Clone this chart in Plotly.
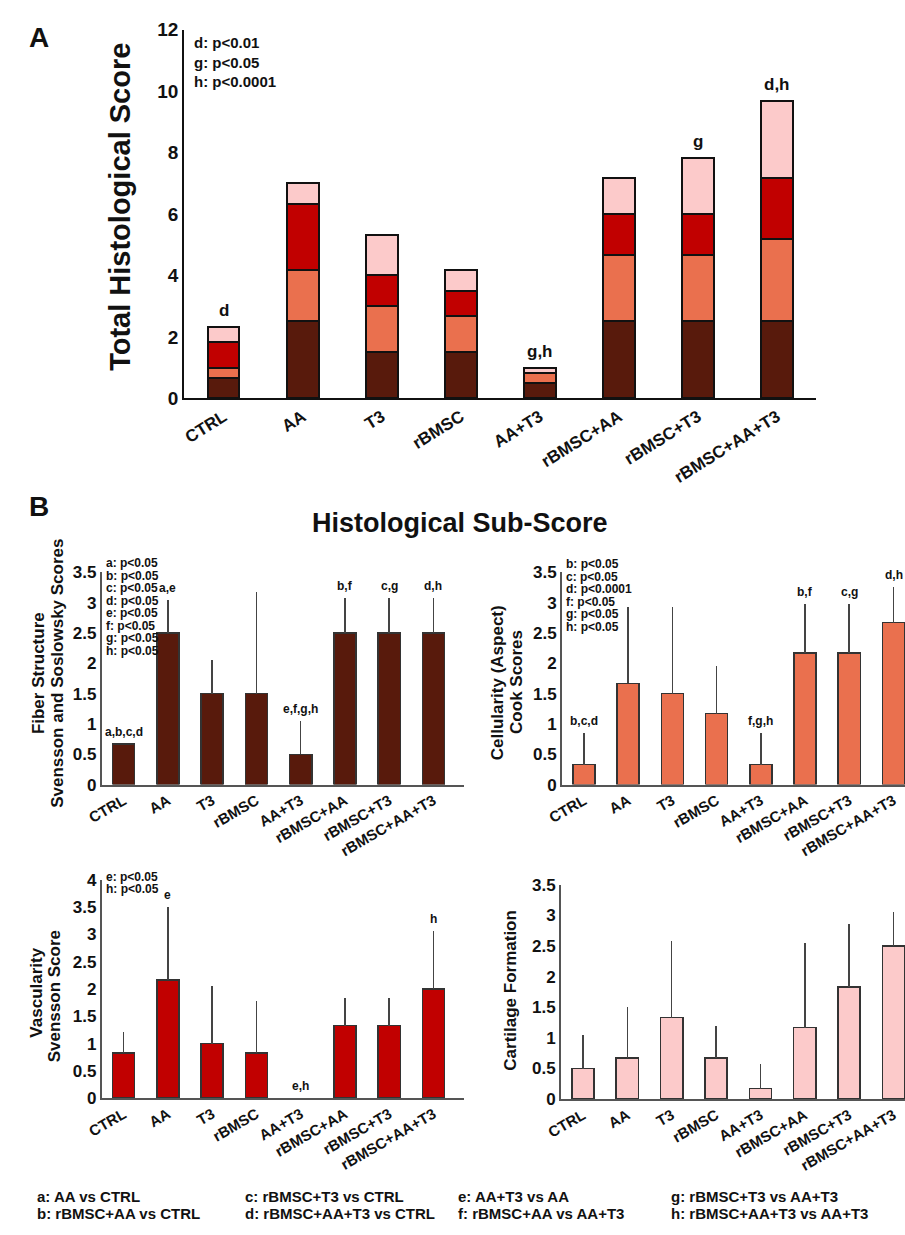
import plotly.graph_objects as go

W, H = 905, 1235

groups = ["CTRL", "AA", "T3", "rBMSC", "AA+T3", "rBMSC+AA", "rBMSC+T3", "rBMSC+AA+T3"]

# Mean sub-scores per group
fiber_mean = [0.67, 2.5, 1.5, 1.5, 0.5, 2.5, 2.5, 2.5]
cell_mean = [0.33, 1.67, 1.5, 1.17, 0.33, 2.17, 2.17, 2.67]
vasc_mean = [0.83, 2.17, 1.0, 0.83, 0.0, 1.33, 1.33, 2.0]
cart_mean = [0.5, 0.67, 1.33, 0.67, 0.17, 1.17, 1.83, 2.5]

# Standard deviations (upper bars only)
fiber_sd = [0.0, 0.55, 0.55, 1.67, 0.55, 0.57, 0.57, 0.57]
cell_sd = [0.52, 1.26, 1.43, 0.78, 0.52, 0.81, 0.81, 0.58]
vasc_sd = [0.39, 1.33, 1.06, 0.95, 0.0, 0.5, 0.5, 1.07]
cart_sd = [0.55, 0.83, 1.25, 0.53, 0.41, 1.38, 1.03, 0.55]

# Significance letters
total_sig = ["d", "", "", "", "g,h", "", "g", "d,h"]
fiber_sig = ["a,b,c,d", "a,e", "", "", "e,f,g,h", "b,f", "c,g", "d,h"]
cell_sig = ["b,c,d", "", "", "", "f,g,h", "b,f", "c,g", "d,h"]
vasc_sig = ["", "e", "", "", "e,h", "", "", "h"]

total_pvals = ["d: p<0.01", "g: p<0.05", "h: p<0.0001"]
fiber_pvals = ["a: p<0.05", "b: p<0.05", "c: p<0.05", "d: p<0.05",
               "e: p<0.05", "f: p<0.05", "g: p<0.05", "h: p<0.05"]
cell_pvals = ["b: p<0.05", "c: p<0.05", "d: p<0.0001", "f: p<0.05", "g: p<0.05", "h: p<0.05"]
vasc_pvals = ["e: p<0.05", "h: p<0.05"]

comparisons = [
    ["a: AA vs CTRL", "b: rBMSC+AA vs CTRL"],
    ["c: rBMSC+T3 vs CTRL", "d: rBMSC+AA+T3 vs CTRL"],
    ["e: AA+T3 vs AA", "f: rBMSC+AA vs AA+T3"],
    ["g: rBMSC+T3 vs AA+T3", "h: rBMSC+AA+T3 vs AA+T3"],
]

C_FIBER = "#581a0c"
C_CELL = "#ea704e"
C_VASC = "#c10000"
C_CART = "#fccaca"

FONT = "Liberation Sans, Arial, sans-serif"


def px(x):
    return x / W


def py(y):
    return 1 - y / H


fig = go.Figure()

# Panel A: stacked total score
for vals, col in [(fiber_mean, C_FIBER), (cell_mean, C_CELL), (vasc_mean, C_VASC), (cart_mean, C_CART)]:
    fig.add_trace(go.Bar(
        x=groups, y=vals, width=0.4,
        marker=dict(color=col, line=dict(color="#111", width=[2 if v > 0 else 0 for v in vals])),
        xaxis="x", yaxis="y", showlegend=False))

# Panel B sub-scores
sub = [
    (fiber_mean, fiber_sd, C_FIBER, "x2", "y2"),
    (cell_mean, cell_sd, C_CELL, "x3", "y3"),
    (vasc_mean, vasc_sd, C_VASC, "x4", "y4"),
    (cart_mean, cart_sd, C_CART, "x5", "y5"),
]
for m, sd, col, xa, ya in sub:
    fig.add_trace(go.Bar(
        x=groups, y=m, width=0.5,
        marker=dict(color=col, line=dict(color="#333", width=[1.5 if v > 0 else 0 for v in m])),
        error_y=dict(type="data", array=sd, arrayminus=[0] * len(sd), symmetric=False,
                     width=0, thickness=1.6, color="#444"),
        xaxis=xa, yaxis=ya, showlegend=False))

ax_common = dict(showgrid=False, zeroline=False, ticks="", showline=True, fixedrange=True)
xa_font = dict(family=FONT, size=17, color="#111", weight="bold")
xb_font = dict(family=FONT, size=15, color="#111", weight="bold")
yb_font = dict(family=FONT, size=17, color="#111", weight="bold")

layout = dict(
    width=W, height=H, margin=dict(l=0, r=0, t=0, b=0),
    paper_bgcolor="white", plot_bgcolor="white", barmode="stack",
    font=dict(family=FONT, color="#111"),
    xaxis=dict(domain=[px(172), px(815)], range=[-0.5, 7.5], anchor="y", tickangle=-32,
               tickfont=xa_font, linecolor="#111", linewidth=2, **ax_common),
    yaxis=dict(domain=[py(395), py(20)], range=[0, 12], anchor="x", tickvals=[0, 2, 4, 6, 8, 10, 12],
               tickfont=dict(family=FONT, size=19, color="#111", weight="bold"),
               linecolor="#111", linewidth=2, **ax_common),
    xaxis2=dict(domain=[px(88), px(457)], range=[-0.5, 7.7], anchor="y2", tickangle=-30,
                tickfont=xb_font, linecolor="#555", linewidth=1.5, **ax_common),
    yaxis2=dict(domain=[py(788), py(572)], range=[0, 3.5], anchor="x2", dtick=0.5,
                tickfont=yb_font, linecolor="#555", linewidth=1.5, **ax_common),
    xaxis3=dict(domain=[px(556), 1.0], range=[-0.5, 7.26], anchor="y3", tickangle=-30,
                tickfont=xb_font, linecolor="#555", linewidth=1.5, **ax_common),
    yaxis3=dict(domain=[py(788), py(572)], range=[0, 3.5], anchor="x3", dtick=0.5,
                tickfont=yb_font, linecolor="#555", linewidth=1.5, **ax_common),
    xaxis4=dict(domain=[px(88), px(457)], range=[-0.5, 7.7], anchor="y4", tickangle=-30,
                tickfont=xb_font, linecolor="#555", linewidth=1.5, **ax_common),
    yaxis4=dict(domain=[py(1107), py(885)], range=[0, 4], anchor="x4", dtick=0.5,
                tickfont=yb_font, linecolor="#555", linewidth=1.5, **ax_common),
    xaxis5=dict(domain=[px(555), 1.0], range=[-0.5, 7.26], anchor="y5", tickangle=-30,
                tickfont=xb_font, linecolor="#555", linewidth=1.5, **ax_common),
    yaxis5=dict(domain=[py(1108), py(890)], range=[0, 3.5], anchor="x5", dtick=0.5,
                tickfont=yb_font, linecolor="#555", linewidth=1.5, **ax_common),
)
fig.update_layout(**layout)

ann = []


def text(x, y, s, size, xanchor="center", yanchor="middle", angle=0, bold=True):
    ann.append(dict(x=px(x), y=py(y), xref="paper", yref="paper", text=s, showarrow=False,
                    xanchor=xanchor, yanchor=yanchor, textangle=angle,
                    font=dict(family=FONT, size=size, color="#111",
                              weight="bold" if bold else "normal")))


# Panel letters and titles
text(24, 28, "A", 28)
text(24, 505, "B", 28)
text(106, 200, "Total Histological Score", 29, angle=-90)
text(453, 522, "Histological Sub-Score", 27)

# Sub-panel axis titles
text(24, 675, "Fiber Structure", 17, angle=-90)
text(43, 675, "Svensson and Soslowsky Scores", 17, angle=-90)
text(490, 684, "Cellularity (Aspect)", 17, angle=-90)
text(510, 684, "Cook Scores", 17, angle=-90)
text(22, 1000, "Vascularity", 17, angle=-90)
text(41, 1003, "Svensson Score", 17, angle=-90)
text(503, 997, "Cartilage Formation", 17, angle=-90)

# p-value keys
for i, s in enumerate(total_pvals):
    text(180, 33 + 20 * i, s, 15, xanchor="left")
for i, s in enumerate(fiber_pvals):
    text(91, 563 + 12.7 * i, s, 12, xanchor="left")
for i, s in enumerate(cell_pvals):
    text(558, 564 + 12.7 * i, s, 12, xanchor="left")
for i, s in enumerate(vasc_pvals):
    text(90, 882 + 12.5 * i, s, 12, xanchor="left")

# Comparison key at the bottom
col_x = [20, 232, 448, 665]
for cx, pair in zip(col_x, comparisons):
    for j, s in enumerate(pair):
        text(cx, 1207 + 17 * j, s, 15, xanchor="left")

# Significance letters positioned from bar data
totals = [f + c + v + k for f, c, v, k in zip(fiber_mean, cell_mean, vasc_mean, cart_mean)]
for g, t, s in zip(groups, totals, total_sig):
    if s:
        ann.append(dict(x=g, y=t, xref="x", yref="y", text=s, showarrow=False, yanchor="bottom",
                        yshift=5, font=dict(family=FONT, size=17, color="#111", weight="bold")))

for sig, m, sd, xa, ya in [(fiber_sig, fiber_mean, fiber_sd, "x2", "y2"),
                           (cell_sig, cell_mean, cell_sd, "x3", "y3"),
                           (vasc_sig, vasc_mean, vasc_sd, "x4", "y4")]:
    for g, mv, sv, s in zip(groups, m, sd, sig):
        if s:
            ann.append(dict(x=g, y=mv + sv, xref=xa, yref=ya, text=s, showarrow=False,
                            yanchor="bottom", yshift=3,
                            font=dict(family=FONT, size=12, color="#111", weight="bold")))

fig.update_layout(annotations=ann)
fig.write_html("out.html")
